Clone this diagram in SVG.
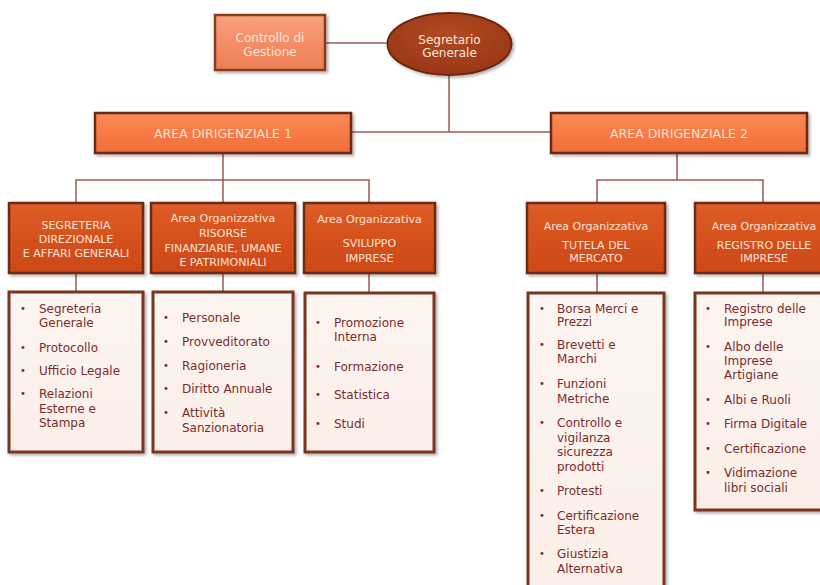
<svg xmlns="http://www.w3.org/2000/svg" width="820" height="585" viewBox="0 0 820 585">
<defs>
<filter id="sh" x="-10%" y="-10%" width="130%" height="130%">
<feDropShadow dx="2" dy="2" stdDeviation="1.5" flood-color="#000" flood-opacity="0.3"/>
</filter>
<linearGradient id="gCtrl" x1="0" y1="0" x2="0" y2="1">
<stop offset="0" stop-color="#F8A17E"/><stop offset="0.5" stop-color="#F48E66"/><stop offset="1" stop-color="#EC7E55"/>
</linearGradient>
<radialGradient id="gEll" cx="0.5" cy="0.35" r="0.7">
<stop offset="0" stop-color="#B24A22"/><stop offset="1" stop-color="#973516"/>
</radialGradient>
<linearGradient id="gArea" x1="0" y1="0" x2="0" y2="1">
<stop offset="0" stop-color="#FA8A58"/><stop offset="0.5" stop-color="#F77B45"/><stop offset="1" stop-color="#EE6E38"/>
</linearGradient>
<linearGradient id="gOrg" x1="0" y1="0" x2="0" y2="1">
<stop offset="0" stop-color="#DE5D27"/><stop offset="0.5" stop-color="#D6511D"/><stop offset="1" stop-color="#CC4818"/>
</linearGradient>
<linearGradient id="gList" x1="0" y1="0" x2="0" y2="1">
<stop offset="0" stop-color="#FDF5F1"/><stop offset="1" stop-color="#FAEEE8"/>
</linearGradient>
</defs>
<style>
.conn{stroke:#9C5A52;stroke-width:1.5;fill:none}
.ctrl{fill:url(#gCtrl);stroke:#8A3A1C;stroke-width:2.5;filter:url(#sh)}
.ell{fill:url(#gEll);stroke:#6E2810;stroke-width:2;filter:url(#sh)}
.area{fill:url(#gArea);stroke:#6B2A14;stroke-width:2.5;filter:url(#sh)}
.org{fill:url(#gOrg);stroke:#6E2A14;stroke-width:2.5;filter:url(#sh)}
.list{fill:url(#gList);stroke:#7A3420;stroke-width:3;filter:url(#sh)}
text{font-family:"DejaVu Sans","Verdana",sans-serif}
.tc{font-size:12px;fill:#FCE6DA;text-anchor:middle}
.ta{font-size:12.5px;fill:#FCE2D4;text-anchor:middle}
.to{font-size:11px;fill:#FBE3D3;text-anchor:middle}
.tl{font-size:12px;fill:#7B2D2D}
.b{font-size:10px;fill:#7B2D2D}
</style>

<g id="connectors">
<line class="conn" x1="325" y1="43" x2="388" y2="43"/>
<line class="conn" x1="449" y1="75" x2="449" y2="132"/>
<line class="conn" x1="351" y1="132" x2="551" y2="132"/>
<line class="conn" x1="223" y1="153" x2="223" y2="203"/>
<polyline class="conn" points="76,203 76,180 369,180 369,203"/>
<line class="conn" x1="677" y1="153" x2="677" y2="180"/>
<polyline class="conn" points="597,203 597,180 763,180 763,203"/>
<line class="conn" x1="76" y1="273" x2="76" y2="292"/>
<line class="conn" x1="223" y1="273" x2="223" y2="292"/>
<line class="conn" x1="369" y1="273" x2="369" y2="293"/>
<line class="conn" x1="597" y1="273" x2="597" y2="293"/>
<line class="conn" x1="763" y1="273" x2="763" y2="293"/>
</g>

<g id="controllo">
<rect class="ctrl" x="215" y="15" width="110" height="55"/>
<text class="tc" x="270" y="42">Controllo di</text>
<text class="tc" x="270" y="56">Gestione</text>
</g>

<g id="segretario">
<ellipse class="ell" cx="449.5" cy="44" rx="62" ry="31"/>
<text class="tc" x="449.5" y="44">Segretario</text>
<text class="tc" x="449.5" y="57">Generale</text>
</g>

<g id="area1">
<rect class="area" x="95" y="113" width="256" height="40"/>
<text class="ta" x="223" y="137.5">AREA DIRIGENZIALE 1</text>
</g>

<g id="area2">
<rect class="area" x="551" y="113" width="256" height="40"/>
<text class="ta" x="679" y="137.5">AREA DIRIGENZIALE 2</text>
</g>

<g id="org-segreteria">
<rect class="org" x="9" y="203" width="134" height="70"/>
<text class="to" x="76" y="229">SEGRETERIA</text>
<text class="to" x="76" y="243">DIREZIONALE</text>
<text class="to" x="76" y="257">E AFFARI GENERALI</text>
</g>

<g id="org-risorse">
<rect class="org" x="151" y="203" width="144" height="70"/>
<text class="to" x="223" y="222">Area Organizzativa</text>
<text class="to" x="223" y="237">RISORSE</text>
<text class="to" x="223" y="252">FINANZIARIE, UMANE</text>
<text class="to" x="223" y="266">E PATRIMONIALI</text>
</g>

<g id="org-sviluppo">
<rect class="org" x="304" y="203" width="131" height="70"/>
<text class="to" x="369.5" y="223">Area Organizzativa</text>
<text class="to" x="369.5" y="247">SVILUPPO</text>
<text class="to" x="369.5" y="262">IMPRESE</text>
</g>

<g id="org-tutela">
<rect class="org" x="527" y="203" width="138" height="70"/>
<text class="to" x="596" y="230">Area Organizzativa</text>
<text class="to" x="596" y="249">TUTELA DEL</text>
<text class="to" x="596" y="262">MERCATO</text>
</g>

<g id="org-registro">
<rect class="org" x="695" y="203" width="138" height="70"/>
<text class="to" x="764" y="230">Area Organizzativa</text>
<text class="to" x="764" y="249">REGISTRO DELLE</text>
<text class="to" x="764" y="262">IMPRESE</text>
</g>

<g id="list-segreteria">
<rect class="list" x="9" y="292" width="134" height="160"/>
<text class="b" x="20" y="312">•</text>
<text class="tl" x="39" y="312.5">Segreteria</text>
<text class="tl" x="39" y="326.5">Generale</text>
<text class="b" x="20" y="351">•</text>
<text class="tl" x="39" y="351.5">Protocollo</text>
<text class="b" x="20" y="374">•</text>
<text class="tl" x="39" y="374.5">Ufficio Legale</text>
<text class="b" x="20" y="397">•</text>
<text class="tl" x="39" y="397.5">Relazioni</text>
<text class="tl" x="39" y="412.5">Esterne e</text>
<text class="tl" x="39" y="426.5">Stampa</text>
</g>

<g id="list-risorse">
<rect class="list" x="153" y="292" width="140" height="160"/>
<text class="b" x="163" y="321">•</text>
<text class="tl" x="182" y="321.5">Personale</text>
<text class="b" x="163" y="345">•</text>
<text class="tl" x="182" y="345.5">Provveditorato</text>
<text class="b" x="163" y="369">•</text>
<text class="tl" x="182" y="369.5">Ragioneria</text>
<text class="b" x="163" y="392">•</text>
<text class="tl" x="182" y="392.5">Diritto Annuale</text>
<text class="b" x="163" y="416">•</text>
<text class="tl" x="182" y="416.5">Attività</text>
<text class="tl" x="182" y="431.5">Sanzionatoria</text>
</g>

<g id="list-sviluppo">
<rect class="list" x="305" y="293" width="129" height="159"/>
<text class="b" x="315" y="326">•</text>
<text class="tl" x="334" y="326.5">Promozione</text>
<text class="tl" x="334" y="340.5">Interna</text>
<text class="b" x="315" y="370">•</text>
<text class="tl" x="334" y="370.5">Formazione</text>
<text class="b" x="315" y="398">•</text>
<text class="tl" x="334" y="398.5">Statistica</text>
<text class="b" x="315" y="427">•</text>
<text class="tl" x="334" y="427.5">Studi</text>
</g>

<g id="list-tutela">
<rect class="list" x="528" y="293" width="136" height="300"/>
<text class="b" x="539" y="312">•</text>
<text class="tl" x="557" y="312.5">Borsa Merci e</text>
<text class="tl" x="557" y="325.5">Prezzi</text>
<text class="b" x="539" y="348">•</text>
<text class="tl" x="557" y="348.5">Brevetti e</text>
<text class="tl" x="557" y="362.5">Marchi</text>
<text class="b" x="539" y="387">•</text>
<text class="tl" x="557" y="387.5">Funzioni</text>
<text class="tl" x="557" y="402.5">Metriche</text>
<text class="b" x="539" y="426">•</text>
<text class="tl" x="557" y="426.5">Controllo e</text>
<text class="tl" x="557" y="441.5">vigilanza</text>
<text class="tl" x="557" y="455.5">sicurezza</text>
<text class="tl" x="557" y="471">prodotti</text>
<text class="b" x="539" y="494">•</text>
<text class="tl" x="557" y="494.5">Protesti</text>
<text class="b" x="539" y="519">•</text>
<text class="tl" x="557" y="519.5">Certificazione</text>
<text class="tl" x="557" y="533.5">Estera</text>
<text class="b" x="539" y="557">•</text>
<text class="tl" x="557" y="557.5">Giustizia</text>
<text class="tl" x="557" y="572.5">Alternativa</text>
</g>

<g id="list-registro">
<rect class="list" x="695" y="293" width="132" height="217"/>
<text class="b" x="705" y="312">•</text>
<text class="tl" x="724" y="312.5">Registro delle</text>
<text class="tl" x="724" y="325.5">Imprese</text>
<text class="b" x="705" y="350">•</text>
<text class="tl" x="724" y="350.5">Albo delle</text>
<text class="tl" x="724" y="364.5">Imprese</text>
<text class="tl" x="724" y="378.5">Artigiane</text>
<text class="b" x="705" y="403">•</text>
<text class="tl" x="724" y="403.5">Albi e Ruoli</text>
<text class="b" x="705" y="427">•</text>
<text class="tl" x="724" y="427.5">Firma Digitale</text>
<text class="b" x="705" y="452">•</text>
<text class="tl" x="724" y="452.5">Certificazione</text>
<text class="b" x="705" y="476">•</text>
<text class="tl" x="724" y="476.5">Vidimazione</text>
<text class="tl" x="724" y="491.5">libri sociali</text>
</g>
</svg>
